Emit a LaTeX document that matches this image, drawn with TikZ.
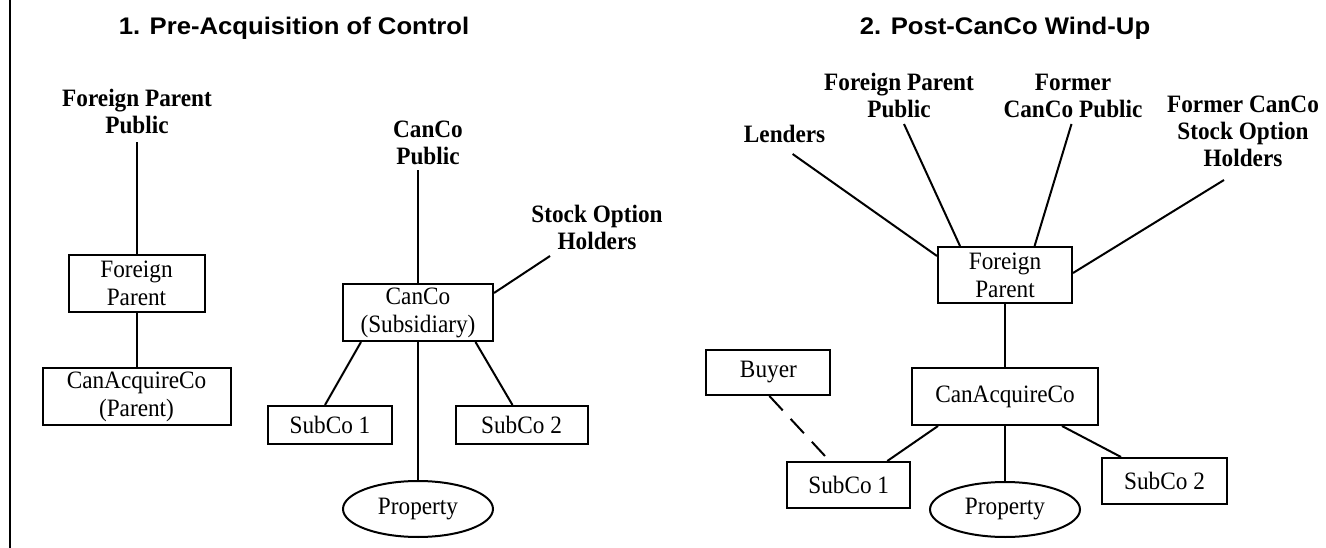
\documentclass[tikz,border=0pt]{standalone}
\usepackage{fontspec}
\setmainfont[FakeStretch=0.93]{Liberation Serif}
\newfontfamily\ttlfont[FakeStretch=1.07]{Liberation Sans}
\usetikzlibrary{shapes.geometric}
\begin{document}
\begin{tikzpicture}[x=1pt,y=-1pt,
  conn/.style={line width=2pt},
  dashconn/.style={line width=2pt, dash pattern=on 19.6pt off 11.6pt},
  bx/.style={draw, line width=2pt, inner sep=0pt, align=center, font=\fontsize{25}{28}\selectfont},
  ell/.style={ellipse, draw, line width=2pt, inner sep=0pt, font=\fontsize{25}{28}\selectfont},
  lbl/.style={inner sep=0pt, align=center, anchor=south, font=\bfseries\fontsize{25}{27}\selectfont},
  ttl/.style={inner sep=0pt, anchor=base, font=\ttlfont\bfseries\fontsize{24}{28}\selectfont}]
\useasboundingbox (0,0) rectangle (1326,548);
\fill[white] (0,0) rectangle (1326,548);
\draw[line width=1.3pt] (10,0) -- (10,548);

% ---------- Panel 1 ----------
\node[ttl] (t1) at (294,35) {1. Pre-Acquisition of Control};
\node[lbl] (fpp1) at (137,134) {Foreign Parent\\Public};
\node[bx, minimum width=136pt, minimum height=57pt] (fp1) at (136.5,283.5) {Foreign\\Parent};
\node[bx, minimum width=188pt, minimum height=57pt] (cac1) at (136.5,396.5) {CanAcquireCo\\(Parent)};
\node[lbl] (ccp) at (428,165) {CanCo\\Public};
\node[bx, minimum width=150pt, minimum height=57pt] (canco) at (418,312.5) {CanCo\\(Subsidiary)};
\node[lbl] (soh) at (597,250) {Stock Option\\Holders};
\node[bx, minimum width=124pt, minimum height=38pt] (sub1a) at (330,425) {SubCo 1};
\node[bx, minimum width=132pt, minimum height=38pt] (sub2a) at (521.5,425) {SubCo 2};
\node[ell, minimum width=150pt, minimum height=56pt] (prop1) at (418,509) {Property};

\draw[conn, shorten >=8pt] (fp1.north) -- (fp1.north |- fpp1.south);
\draw[conn] (fp1.south) -- (cac1.north);
\draw[conn, shorten >=5pt] (canco.north) -- (canco.north |- ccp.south);
\draw[conn] ([xshift=-47pt,yshift=-6pt]soh.south) -- ([yshift=19.5pt]canco.east);
\draw[conn] ([xshift=-57pt]canco.south) -- ([xshift=-5pt]sub1a.north);
\draw[conn] ([xshift=57.5pt]canco.south) -- ([xshift=-9pt]sub2a.north);
\draw[conn] (canco.south) -- (prop1.north);

% ---------- Panel 2 ----------
\node[ttl] (t2) at (1005,35) {2. Post-CanCo Wind-Up};
\node[lbl] (lend) at (784.6,143) {Lenders};
\node[lbl] (fpp2) at (899,118) {Foreign Parent\\Public};
\node[lbl] (fcp) at (1073,118) {Former\\CanCo Public};
\node[lbl] (fsoh) at (1243,167) {Former CanCo\\Stock Option\\Holders};
\node[bx, minimum width=134pt, minimum height=56pt] (fp2) at (1005,275) {Foreign\\Parent};
\node[bx, minimum width=186pt, minimum height=57pt] (cac2) at (1005,396.5) {CanAcquireCo};
\node[bx, minimum width=124pt, minimum height=45pt] (buyer) at (768.4,372.5) {Buyer};
\node[bx, minimum width=123pt, minimum height=46pt] (sub1b) at (848.7,485) {SubCo 1};
\node[ell, minimum width=150pt, minimum height=55pt] (prop2) at (1005,509.5) {Property};
\node[bx, minimum width=125pt, minimum height=46pt] (sub2b) at (1164.5,481) {SubCo 2};

\draw[conn] ([xshift=8pt,yshift=-11pt]lend.south) -- ([yshift=19pt]fp2.west);
\draw[conn] ([xshift=5pt,yshift=-6pt]fpp2.south) -- ([xshift=-45pt]fp2.north);
\draw[conn] ([xshift=-1.5pt,yshift=-6pt]fcp.south) -- ([xshift=29.6pt]fp2.north);
\draw[conn] ([xshift=-19pt,yshift=-13pt]fsoh.south) -- ([yshift=2pt]fp2.east);
\draw[conn] (fp2.south) -- (cac2.north);
\draw[dashconn] ([xshift=1pt]buyer.south) -- ([xshift=-23.7pt,yshift=5pt]sub1b.north);
\draw[conn] ([xshift=-67pt]cac2.south) -- ([xshift=38.6pt]sub1b.north);
\draw[conn] (cac2.south) -- (prop2.north);
\draw[conn] ([xshift=57pt]cac2.south) -- ([xshift=-43.5pt]sub2b.north);
\end{tikzpicture}
\end{document}
